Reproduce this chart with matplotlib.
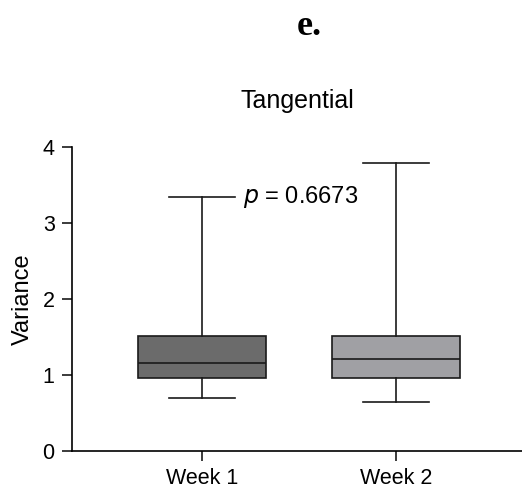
import matplotlib
matplotlib.use("Agg")
import matplotlib.pyplot as plt

plt.rcParams['font.family'] = ['Liberation Sans', 'DejaVu Sans']

groups = ['Week 1', 'Week 2']
whislo = [0.70, 0.64]
q1 = [0.965, 0.965]
med = [1.155, 1.215]
q3 = [1.52, 1.52]
whishi = [3.35, 3.79]
box_colors = ['#6b6b6b', '#a0a0a4']
p_label = '$\\it{p}$ = 0.6673'

stats = []
for i in range(len(groups)):
    stats.append({'label': groups[i], 'whislo': whislo[i], 'q1': q1[i],
                  'med': med[i], 'q3': q3[i], 'whishi': whishi[i], 'fliers': []})

fig = plt.figure(figsize=(5.22, 4.94), dpi=100)
ax = fig.add_axes([0.138, 0.087, 0.862, 0.615])

lw = 1.2
bp = ax.bxp(stats, positions=[1, 2], widths=0.66, patch_artist=True,
            showfliers=False, manage_ticks=False,
            boxprops=dict(linewidth=lw, edgecolor='#1a1a1a'),
            medianprops=dict(color='#1a1a1a', linewidth=lw),
            whiskerprops=dict(color='#1a1a1a', linewidth=lw),
            capprops=dict(color='#1a1a1a', linewidth=lw),
            capwidths=0.34)
for patch, c in zip(bp['boxes'], box_colors):
    patch.set_facecolor(c)

ax.set_xlim(0.33, 2.65)
ax.set_ylim(0, 4)
ax.set_yticks([0, 1, 2, 3, 4])
ax.set_xticks([1, 2])
ax.set_xticklabels(groups)
ax.tick_params(labelsize=15.5, width=lw, length=7.5, color='#1a1a1a')
ax.tick_params(axis='y', pad=5)
ax.tick_params(axis='x', pad=5)
ax.spines['top'].set_visible(False)
ax.spines['right'].set_visible(False)
ax.spines['left'].set_linewidth(lw)
ax.spines['bottom'].set_linewidth(lw)
ax.set_ylabel('Variance', fontsize=17, labelpad=6)

ax.text(1.21, whishi[0], p_label, fontsize=17, va='center', ha='left')
ax.set_title('Tangential', fontsize=18, pad=28)

fig.text(0.592, 0.947, 'e.', fontsize=26, fontweight='bold',
         family='Liberation Serif', ha='center', va='center')

fig.savefig('out.png', dpi=100)
